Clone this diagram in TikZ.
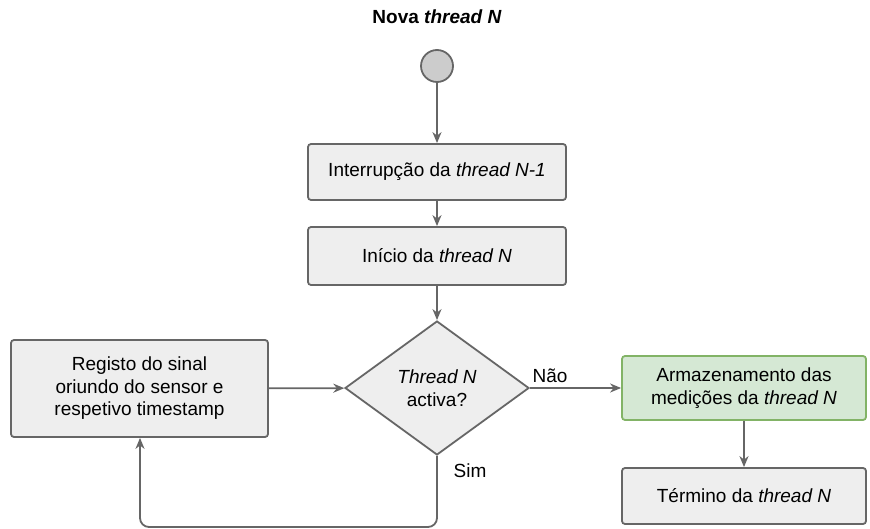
\documentclass[tikz,border=0pt]{standalone}
\usepackage{fontspec}
\setmainfont{Liberation Sans}
\usetikzlibrary{shapes.geometric,arrows.meta}
\definecolor{boxfill}{HTML}{EEEEEE}
\definecolor{boxline}{HTML}{666666}
\definecolor{greenfill}{HTML}{D5E8D4}
\definecolor{greenline}{HTML}{82B366}
\definecolor{startfill}{HTML}{CCCCCC}
\tikzset{
  x=1pt, y=-1pt,
  every node/.style={font=\fontsize{19}{22.5}\selectfont, text=black},
  stepbox/.style={draw=boxline, fill=boxfill, line width=1.8pt, rounded corners=3pt, inner sep=0pt, align=center},
  greenbox/.style={stepbox, draw=greenline, fill=greenfill},
  decision/.style={diamond, draw=boxline, fill=boxfill, line width=1.8pt, inner sep=0pt, align=center, aspect=1.37},
  flow/.style={draw=boxline, line width=1.8pt, -{Stealth[length=11pt,width=9pt]}},
  lbl/.style={font=\fontsize{19}{22.5}\selectfont}
}
\begin{document}
\begin{tikzpicture}
\useasboundingbox (0,0) rectangle (870,529);
\node[font=\bfseries\fontsize{19}{22.5}\selectfont] (title) at (437,17) {Nova \textit{thread N}};
\node[circle, draw=boxline, fill=startfill, line width=1.8pt, minimum size=32pt, inner sep=0pt] (start) at (437,66) {};
\node[stepbox, minimum width=258pt, minimum height=56pt] (intr) at (437,172) {Interrupção da \textit{thread N-1}};
\node[stepbox, minimum width=258pt, minimum height=58pt] (ini) at (437,256) {Início da \textit{thread N}};
\node[decision, minimum width=184pt, minimum height=134pt] (dec) at (437,388) {\textit{Thread N}\\activa?};
\node[stepbox, minimum width=257pt, minimum height=97pt] (reg) at (139.5,388.5) {Registo do sinal\\oriundo do sensor e\\respetivo timestamp};
\node[greenbox, minimum width=244pt, minimum height=64pt] (arm) at (744,388) {Armazenamento das\\medições da \textit{thread N}};
\node[stepbox, minimum width=244pt, minimum height=56pt] (term) at (744,496) {Término da \textit{thread N}};
\coordinate (loopR) at (437,527);
\coordinate (loopL) at (140,527);
\draw[flow] (start) -- (intr);
\draw[flow] (intr) -- (ini);
\draw[flow] (ini) -- (dec);
\draw[flow] (reg) -- (dec);
\draw[flow] (dec.east) -- node[lbl, above, pos=0.22, yshift=1pt] (nao) {Não} (arm);
\draw[flow] (arm) -- (term);
\draw[flow, rounded corners=9pt] (dec.south) -- (loopR) -- (loopL) -- (reg.south -| loopL);
\node[lbl] (sim) at (470,471) {Sim};
\end{tikzpicture}
\end{document}
